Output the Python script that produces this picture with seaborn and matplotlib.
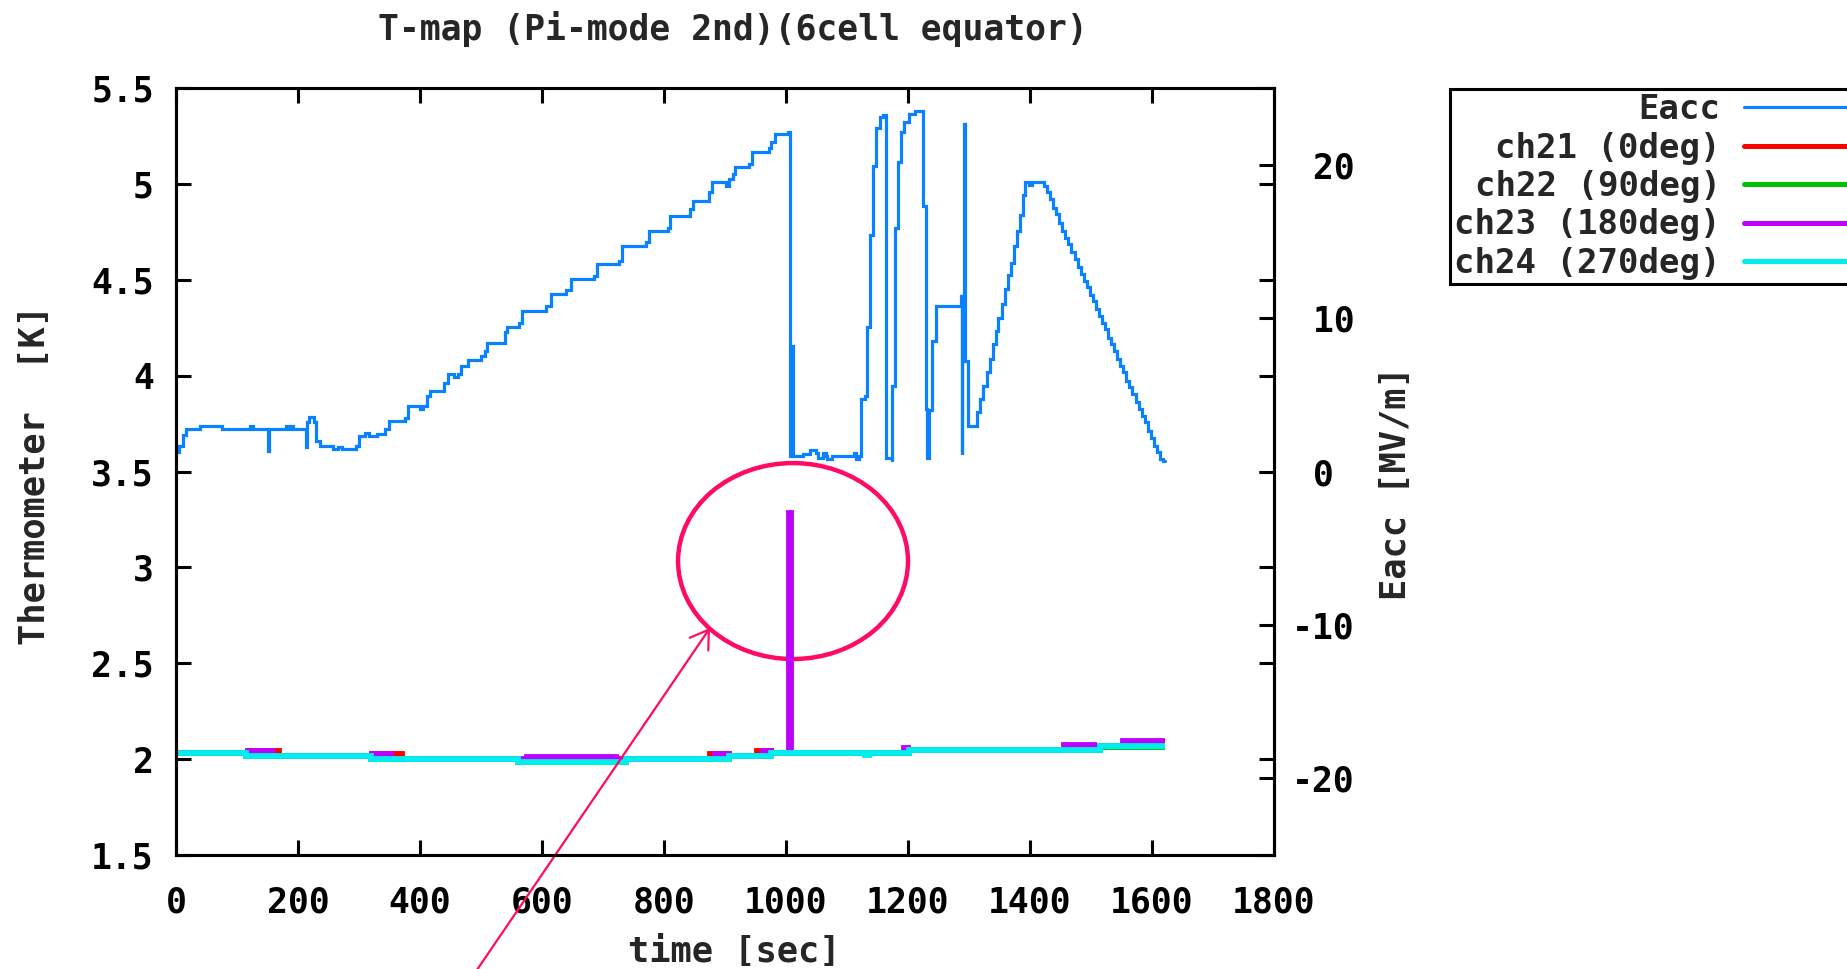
import matplotlib
matplotlib.use("Agg")
import matplotlib.pyplot as plt
import seaborn as sns
import pandas as pd
from matplotlib.patches import Ellipse
from matplotlib.lines import Line2D

# ---------------- data ----------------
title_text = "T-map (Pi-mode 2nd)(6cell equator)"
xlabel_text = "time [sec]"
ylabel_text = "Thermometer  [K]"
y2label_text = "Eacc [MV/m]"

x_ticks = [0, 200, 400, 600, 800, 1000, 1200, 1400, 1600, 1800]
y_ticks = [1.5, 2.0, 2.5, 3.0, 3.5, 4.0, 4.5, 5.0, 5.5]
y_tick_labels = ["1.5", "2", "2.5", "3", "3.5", "4", "4.5", "5", "5.5"]
y2_ticks = [-20, -10, 0, 10, 20]
y2_tick_labels = ["-20", "-10", " 0", " 10", " 20"]

legend_labels = ["Eacc", "ch21 (0deg)", "ch22 (90deg)", "ch23 (180deg)", "ch24 (270deg)"]

eacc_time = [0, 5, 12, 17, 40, 75, 122, 127, 151, 153, 181, 184, 189, 192, 213, 215, 218, 226,
             229, 236, 258, 266, 272, 295, 300, 310, 317, 330, 342, 349, 375, 381, 400, 405,
             411, 417, 440, 446, 456, 462, 468, 478, 500, 506, 510, 539, 543, 563, 568, 607,
             614, 640, 647, 685, 690, 727, 731, 771, 776, 806, 810, 843, 847, 873, 878, 902,
             907, 913, 917, 939, 945, 972, 976, 982,
             1004, 1006, 1010, 1012, 1028, 1040, 1050, 1052, 1060, 1066, 1068, 1076, 1111,
             1114, 1120, 1123, 1129, 1133, 1137, 1143, 1148, 1154, 1159, 1164, 1173, 1174,
             1178, 1183, 1189, 1194, 1201, 1211, 1225, 1229, 1231, 1234, 1240, 1246, 1287,
             1288, 1289, 1290, 1291, 1292, 1293, 1298,
             1313, 1318, 1323, 1329, 1334, 1339, 1344, 1348, 1354, 1359, 1364, 1369, 1373,
             1378, 1383, 1388, 1392, 1398, 1404,
             1423, 1428, 1433, 1438, 1443, 1448, 1453, 1458, 1463, 1468, 1473, 1478, 1483,
             1488, 1493, 1498, 1503, 1508, 1513, 1518, 1523, 1528, 1533, 1538, 1543, 1548,
             1553, 1558, 1563, 1568, 1573, 1578, 1583, 1588, 1593, 1598, 1603, 1608, 1613,
             1618, 1622]
eacc_mv = [1.25, 1.65, 2.4, 2.75, 2.98, 2.75, 2.98, 2.75, 1.35, 2.75, 2.98, 2.75, 2.98, 2.75,
           1.6, 3.2, 3.55, 3.2,
           2.0, 1.67, 1.46, 1.57, 1.46, 1.67, 2.33, 2.5, 2.33, 2.45, 2.75, 3.3, 3.52, 4.28,
           4.07, 4.28,
           4.93, 5.26, 5.8, 6.35, 6.15, 6.35, 6.9, 7.3, 7.5, 7.85, 8.4, 9.1, 9.4, 9.7, 10.45,
           10.8,
           11.55, 11.85, 12.55, 12.75, 13.5, 13.75, 14.72, 14.95, 15.7, 15.9, 16.67, 17.1,
           17.65, 18.25, 18.85, 18.6,
           19.1, 19.4, 19.83, 20.05, 20.8, 21.1, 21.46, 22.0,
           22.15, 1.0, 8.2, 1.0, 1.13, 1.41, 1.2, 0.9, 1.2, 1.0, 0.8, 1.0, 1.2,
           0.8, 1.0, 4.7, 4.95, 9.4, 15.4, 19.9, 22.4, 23.1, 23.25, 0.9, 0.7, 5.6,
           15.9, 20.2, 22.1, 22.8, 23.3, 23.5, 17.3, 4.07, 0.9, 4.0, 8.5, 10.8, 11.45,
           1.13, 11.45, 7.2, 11.45, 22.65, 7.2, 2.98,
           3.85, 4.7, 5.6, 6.46, 7.33, 8.3, 9.17, 10.0, 10.9, 11.9, 12.8, 13.6, 14.7,
           15.7, 16.7, 18.0, 18.85, 18.65, 18.85,
           18.63, 18.2, 17.76, 17.2, 16.8, 16.2, 15.7, 15.2, 14.8, 14.3, 13.85, 13.3, 12.9,
           12.4, 12.0, 11.5, 11.1, 10.6, 10.15, 9.7, 9.3, 8.7, 8.3, 7.87, 7.33, 6.9,
           6.46, 5.9, 5.5, 5.04, 4.5, 4.07, 3.63, 3.2, 2.65, 2.2, 1.67, 1.24, 0.8,
           0.7, 0.7]

ch21_time = [0, 118, 169, 322, 370, 560, 737, 876, 907, 953, 975, 1201, 1515, 1621]
ch21_temp = [2.032, 2.04, 2.016, 2.025, 2.0, 1.985, 2.0, 2.025, 2.016, 2.04, 2.032, 2.048,
             2.066, 2.066]

ch22_time = [0, 114, 319, 560, 737, 907, 975, 1201, 1515, 1621]
ch22_temp = [2.03, 2.015, 2.0, 1.987, 2.0, 2.015, 2.03, 2.047, 2.065, 2.065]

ch23_time = [0, 118, 157, 322, 352, 576, 722, 884, 907, 962, 975, 1005, 1008, 1194, 1200,
             1455, 1505, 1553, 1621]
ch23_temp = [2.032, 2.04, 2.016, 2.025, 2.0, 2.009, 2.0, 2.025, 2.016, 2.04, 2.032, 3.285,
             2.032, 2.056, 2.048, 2.074, 2.066, 2.093, 2.093]

ch24_time = [0, 114, 319, 560, 737, 907, 975, 1130, 1136, 1201, 1515, 1621]
ch24_temp = [2.032, 2.016, 2.0, 1.985, 2.0, 2.016, 2.032, 2.02, 2.032, 2.048, 2.066, 2.066]

# ---------------- style ----------------
eacc_color = "#0A82FF"
ch_colors = ["#FF0000", "#00C000", "#C000FF", "#00EEEE"]
mark_color = "#FF0A64"

sns.set_theme(style="white")
plt.rcParams["font.family"] = ["DejaVu Sans Mono", "DejaVu Sans"]
plt.rcParams["font.weight"] = "bold"
plt.rcParams["axes.edgecolor"] = "black"
plt.rcParams["axes.linewidth"] = 2.2

W, H = 1847, 969
fig = plt.figure(figsize=(W / 100, H / 100), dpi=100)
fig.patch.set_facecolor("white")
ax = fig.add_axes([176 / W, 1 - 855 / H, (1274 - 176) / W, (855 - 88) / H])
ax2 = ax.twinx()

FS = 25
FL = 25.5

# temperature channels
t_lw = 4.2
ch_series = [(ch21_time, ch21_temp), (ch22_time, ch22_temp),
             (ch23_time, ch23_temp), (ch24_time, ch24_temp)]
for (tt, vv), col in zip(ch_series, ch_colors):
    df = pd.DataFrame({"t": tt, "v": vv})
    sns.lineplot(data=df, x="t", y="v", ax=ax, estimator=None, sort=False,
                 drawstyle="steps-post", color=col, linewidth=t_lw, legend=False,
                 solid_capstyle="butt", solid_joinstyle="miter")

# Eacc
df_e = pd.DataFrame({"t": eacc_time, "e": eacc_mv})
sns.lineplot(data=df_e, x="t", y="e", ax=ax2, estimator=None, sort=False,
             drawstyle="steps-post", color=eacc_color, linewidth=2.3, legend=False,
             solid_joinstyle="miter")

# axes limits / ticks
ax.set_xlim(0, 1800)
ax.set_ylim(1.5, 5.5)
ax2.set_ylim(-25, 25)
ax.set_xticks(x_ticks)
ax.set_xticklabels([str(v) for v in x_ticks])
ax.set_yticks(y_ticks)
ax.set_yticklabels(y_tick_labels)
ax2.set_yticks(y2_ticks)
ax2.set_yticklabels(y2_tick_labels, ha="left")

ax.tick_params(axis="x", direction="in", length=11, width=2.2, top=True, bottom=True,
               labelsize=FS, pad=22, colors="black")
ax.tick_params(axis="y", direction="in", length=11, width=2.2, left=True, right=True,
               labelsize=FS, pad=16, colors="black")
ax2.tick_params(axis="y", direction="in", length=11, width=2.2, right=True,
                labelsize=FS, pad=13, colors="black")
for a in (ax, ax2):
    for s in a.spines.values():
        s.set_color("black")
        s.set_linewidth(2.2)
for lab in ax.get_xticklabels() + ax.get_yticklabels() + ax2.get_yticklabels():
    lab.set_fontweight("bold")
    lab.set_family("DejaVu Sans Mono")

# labels
ax.set_xlabel(xlabel_text, fontsize=FL, fontweight="bold", va="center")
ax.xaxis.set_label_coords(0.508, -0.1265)
ax.set_ylabel(ylabel_text, fontsize=FL, fontweight="bold", va="center")
ax.yaxis.set_label_coords(-0.128, 0.495)
ax2.set_ylabel(y2label_text, fontsize=FL, fontweight="bold", va="center")
ax2.yaxis.set_label_coords(1.111, 0.485)
ax.set_title(title_text, fontsize=FS, fontweight="bold", x=0.507, y=1.077, va="center", pad=0)

# annotation: circle + arrow
ax.add_patch(Ellipse((1011.5, 3.033), width=377, height=1.022, fill=False,
                     edgecolor=mark_color, linewidth=3.2, zorder=1.5))
ax.annotate("", xy=(875.4, 2.684), xycoords="data", xytext=(466, -17),
            textcoords="figure pixels", annotation_clip=False,
            arrowprops=dict(arrowstyle="->,head_length=0.42,head_width=0.27",
                            color=mark_color, lw=1.6, shrinkA=0, shrinkB=0,
                            mutation_scale=30))

# legend
handles = [Line2D([], [], color=eacc_color, lw=2.3)] + \
          [Line2D([], [], color=c, lw=3.6) for c in ch_colors]
leg = fig.legend(handles, legend_labels, loc="upper left",
                 bbox_to_anchor=(1450 / W, 1 - 89 / H), bbox_transform=fig.transFigure,
                 markerfirst=False, frameon=True, fancybox=False, edgecolor="black",
                 framealpha=1, borderpad=0.12, labelspacing=0.16, handlelength=3.7,
                 handletextpad=0.7, borderaxespad=0,
                 prop={"family": "DejaVu Sans Mono", "weight": "bold", "size": 24.5})
leg.get_frame().set_linewidth(2.2)

fig.savefig("out.png", dpi=100, facecolor="white")
